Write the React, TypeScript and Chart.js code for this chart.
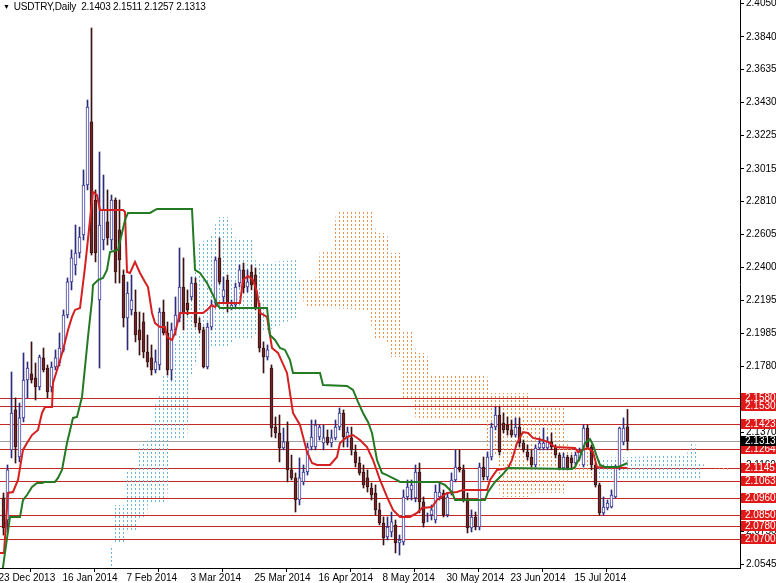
import React, { useEffect, useRef } from 'react';
import { Chart, registerables } from 'chart.js';

Chart.register(...registerables);

const FONT = '"Liberation Sans", Arial, sans-serif';

const openVals = [
  2.0958, 2.0820, 2.1258, 2.1508, 2.1214, 2.1458, 2.1695, 2.1733, 2.1708, 2.1651,
  2.1833, 2.1770, 2.1651, 2.1776, 2.1801, 2.1883, 2.2101, 2.2308, 2.2414, 2.2489,
  2.2601, 2.2914, 2.3308, 2.2820, 2.2195, 2.2570, 2.2683, 2.2570, 2.2820, 2.2633,
  2.2351, 2.2083, 2.2133, 2.2120, 2.2008, 2.2058, 2.1870, 2.1833, 2.1758, 2.1789,
  2.2120, 2.1989, 2.1758, 2.2008, 2.2083, 2.2276, 2.2176, 2.2214, 2.2301, 2.2051,
  2.2008, 2.1776, 2.2026, 2.2176, 2.2458, 2.2214, 2.2320, 2.2145, 2.2164, 2.2301,
  2.2383, 2.2276, 2.2370, 2.2351, 2.2151, 2.1895, 2.1839, 2.1770, 2.1401, 2.1364,
  2.1270, 2.1308, 2.1133, 2.1083, 2.0945, 2.1058, 2.1120, 2.1276, 2.1276, 2.1339,
  2.1301, 2.1339, 2.1301, 2.1333, 2.1401, 2.1489, 2.1339, 2.1333, 2.1245, 2.1176,
  2.1120, 2.1083, 2.1020, 2.0989, 2.0883, 2.0801, 2.0714, 2.0745, 2.0789, 2.0676,
  2.0683, 2.0964, 2.1008, 2.0958, 2.1120, 2.0933, 2.0833, 2.0851, 2.0820, 2.0964,
  2.0989, 2.0851, 2.0989, 2.1070, 2.1151, 2.1133, 2.0945, 2.0770, 2.0839, 2.0776,
  2.1151, 2.1089, 2.1214, 2.1401, 2.1476, 2.1426, 2.1414, 2.1383, 2.1351, 2.1401,
  2.1301, 2.1245, 2.1214, 2.1164, 2.1270, 2.1270, 2.1270, 2.1308, 2.1276, 2.1226,
  2.1145, 2.1214, 2.1208, 2.1176, 2.1208, 2.1164, 2.1395, 2.1276, 2.1164, 2.1039,
  2.0864, 2.0895, 2.0901, 2.0964, 2.1145, 2.1308, 2.1403,
];

const highVals = [
  2.0989, 2.1164, 2.1745, 2.1583, 2.1551, 2.1864, 2.1808, 2.1933, 2.1801, 2.1851,
  2.1895, 2.1789, 2.1808, 2.1883, 2.1989, 2.2133, 2.2333, 2.2508, 2.2664, 2.2651,
  2.3008, 2.3445, 2.3895, 2.2883, 2.3120, 2.2976, 2.2883, 2.2851, 2.2833, 2.2820,
  2.2383, 2.2308, 2.2351, 2.2258, 2.2120, 2.2114, 2.1976, 2.1914, 2.1883, 2.2145,
  2.2195, 2.2058, 2.2051, 2.2214, 2.2520, 2.2458, 2.2258, 2.2339, 2.2333, 2.2083,
  2.2026, 2.2051, 2.2195, 2.2464, 2.2583, 2.2339, 2.2351, 2.2195, 2.2301, 2.2414,
  2.2426, 2.2383, 2.2414, 2.2395, 2.2176, 2.1933, 2.1914, 2.1789, 2.1464, 2.1476,
  2.1395, 2.1433, 2.1226, 2.1114, 2.1208, 2.1164, 2.1301, 2.1445, 2.1445, 2.1414,
  2.1414, 2.1383, 2.1383, 2.1445, 2.1520, 2.1508, 2.1401, 2.1401, 2.1289, 2.1214,
  2.1164, 2.1133, 2.1051, 2.1039, 2.0926, 2.0839, 2.0839, 2.0870, 2.0820, 2.0726,
  2.1008, 2.1070, 2.1070, 2.1164, 2.1176, 2.0964, 2.0864, 2.0914, 2.1039, 2.1051,
  2.1008, 2.0989, 2.1114, 2.1258, 2.1258, 2.1164, 2.0989, 2.0883, 2.0870, 2.1176,
  2.1214, 2.1245, 2.1426, 2.1526, 2.1526, 2.1489, 2.1464, 2.1445, 2.1458, 2.1458,
  2.1320, 2.1289, 2.1258, 2.1289, 2.1333, 2.1395, 2.1339, 2.1364, 2.1289, 2.1239,
  2.1239, 2.1226, 2.1226, 2.1245, 2.1270, 2.1414, 2.1414, 2.1289, 2.1176, 2.1051,
  2.0964, 2.0945, 2.1008, 2.1164, 2.1401, 2.1458, 2.1511,
];

const lowVals = [
  2.0726, 2.0745, 2.1208, 2.1176, 2.1183, 2.1433, 2.1583, 2.1676, 2.1570, 2.1633,
  2.1745, 2.1583, 2.1620, 2.1758, 2.1783, 2.1870, 2.2083, 2.2258, 2.2351, 2.2458,
  2.2570, 2.2883, 2.2476, 2.2433, 2.1770, 2.2508, 2.2539, 2.2508, 2.2301, 2.2301,
  2.2026, 2.1883, 2.2101, 2.1933, 2.1851, 2.1833, 2.1776, 2.1726, 2.1739, 2.1758,
  2.1976, 2.1726, 2.1695, 2.1976, 2.2058, 2.2008, 2.2101, 2.2195, 2.2026, 2.1989,
  2.1770, 2.1764, 2.2008, 2.2164, 2.2295, 2.2176, 2.2120, 2.2133, 2.2151, 2.2276,
  2.2239, 2.2245, 2.2258, 2.2133, 2.1870, 2.1739, 2.1820, 2.1339, 2.1333, 2.1183,
  2.1258, 2.1058, 2.1070, 2.0870, 2.0914, 2.1039, 2.1101, 2.1258, 2.1258, 2.1320,
  2.1258, 2.1289, 2.1276, 2.1320, 2.1383, 2.1276, 2.1276, 2.1226, 2.1151, 2.1101,
  2.1020, 2.0995, 2.0945, 2.0851, 2.0789, 2.0664, 2.0695, 2.0714, 2.0614, 2.0601,
  2.0664, 2.0945, 2.0945, 2.0933, 2.0864, 2.0776, 2.0808, 2.0820, 2.0801, 2.0945,
  2.0839, 2.0839, 2.0976, 2.1058, 2.1120, 2.0933, 2.0739, 2.0745, 2.0758, 2.0758,
  2.1070, 2.1070, 2.1195, 2.1383, 2.1226, 2.1364, 2.1351, 2.1339, 2.1339, 2.1276,
  2.1245, 2.1195, 2.1151, 2.1151, 2.1258, 2.1258, 2.1258, 2.1258, 2.1208, 2.1133,
  2.1133, 2.1133, 2.1145, 2.1164, 2.1195, 2.1151, 2.1270, 2.1133, 2.1026, 2.0851,
  2.0851, 2.0883, 2.0895, 2.0958, 2.1133, 2.1289, 2.1257,
];

const closeVals = [
  2.0770, 2.1133, 2.1489, 2.1276, 2.1458, 2.1695, 2.1770, 2.1695, 2.1651, 2.1839,
  2.1758, 2.1620, 2.1776, 2.1833, 2.1895, 2.2101, 2.2308, 2.2458, 2.2489, 2.2589,
  2.2914, 2.3401, 2.2489, 2.2489, 2.2664, 2.2758, 2.2583, 2.2820, 2.2370, 2.2445,
  2.2083, 2.2239, 2.2195, 2.1976, 2.1945, 2.1870, 2.1808, 2.1758, 2.1808, 2.2120,
  2.1989, 2.1758, 2.2008, 2.2101, 2.2276, 2.2114, 2.2133, 2.2301, 2.2051, 2.2008,
  2.1776, 2.2026, 2.2164, 2.2445, 2.2308, 2.2258, 2.2176, 2.2164, 2.2276, 2.2383,
  2.2270, 2.2308, 2.2289, 2.2151, 2.1895, 2.1839, 2.1883, 2.1395, 2.1364, 2.1270,
  2.1308, 2.1133, 2.1083, 2.0945, 2.1083, 2.1120, 2.1276, 2.1339, 2.1414, 2.1401,
  2.1333, 2.1301, 2.1333, 2.1401, 2.1489, 2.1339, 2.1370, 2.1258, 2.1176, 2.1114,
  2.1039, 2.1026, 2.0976, 2.0883, 2.0801, 2.0708, 2.0776, 2.0808, 2.0676, 2.0695,
  2.0964, 2.1026, 2.1039, 2.1120, 2.0933, 2.0801, 2.0833, 2.0883, 2.0995, 2.0995,
  2.0851, 2.0964, 2.1070, 2.1151, 2.1133, 2.0945, 2.0770, 2.0839, 2.0776, 2.1151,
  2.1089, 2.1214, 2.1401, 2.1476, 2.1245, 2.1383, 2.1383, 2.1351, 2.1401, 2.1301,
  2.1258, 2.1214, 2.1164, 2.1270, 2.1301, 2.1301, 2.1308, 2.1276, 2.1226, 2.1145,
  2.1214, 2.1145, 2.1176, 2.1226, 2.1245, 2.1395, 2.1276, 2.1164, 2.1039, 2.0864,
  2.0901, 2.0926, 2.0976, 2.1145, 2.1395, 2.1395, 2.1313,
];

// [bar index, price] vertices
const tenkanPts: [number, number][] = [
  [-0.875, 2.0614], [0.125, 2.0614], [1.125, 2.0989], [2.375, 2.0995], [3.625, 2.107], [4.875, 2.1258],
  [5.875, 2.1301], [7.125, 2.1351], [8.625, 2.1383], [9.625, 2.1489], [10.375, 2.1526], [12.125, 2.1526],
  [12.375, 2.1676], [13.625, 2.1776], [14.875, 2.1883], [16.125, 2.2008], [17.125, 2.2089], [17.875, 2.2133],
  [19.125, 2.2145], [20.375, 2.2401], [21.625, 2.2695], [22.375, 2.287], [23.375, 2.2851], [24.125, 2.2758],
  [29.875, 2.2758], [30.375, 2.2745], [30.875, 2.237], [31.625, 2.2364], [32.875, 2.2433], [34.125, 2.2364],
  [35.375, 2.2308], [36.125, 2.2276], [37.125, 2.2114], [37.875, 2.2051], [39.125, 2.2026], [40.375, 2.2026],
  [40.875, 2.1964], [42.125, 2.1945], [42.875, 2.1989], [44.125, 2.2114], [49.875, 2.2114], [50.875, 2.2133],
  [52.125, 2.2164], [52.875, 2.2151], [53.625, 2.2176], [59.125, 2.2176], [59.875, 2.232], [61.125, 2.2345],
  [62.375, 2.232], [63.375, 2.2245], [64.125, 2.2114], [65.875, 2.2089], [67.125, 2.1895], [68.625, 2.1864],
  [70.875, 2.1739], [72.375, 2.1489], [74.125, 2.1414], [75.875, 2.1245], [77.125, 2.1176], [78.375, 2.1164],
  [81.625, 2.1164], [83.375, 2.1214], [84.125, 2.1301], [85.875, 2.1339], [87.375, 2.1351], [89.125, 2.132],
  [90.875, 2.1276], [92.375, 2.1195], [94.125, 2.107], [95.875, 2.0964], [97.375, 2.0883], [99.125, 2.0839],
  [101.625, 2.0839], [103.375, 2.0864], [104.625, 2.0895], [107.125, 2.0901], [108.375, 2.0945], [110.875, 2.0989],
  [113.375, 2.0995], [114.875, 2.1008], [120.875, 2.1008], [121.625, 2.107], [123.375, 2.1133], [126.125, 2.1145],
  [127.125, 2.1195], [128.375, 2.1301], [129.875, 2.137], [131.125, 2.1364], [132.375, 2.1333], [134.625, 2.132],
  [136.125, 2.1308], [137.875, 2.1276], [142.875, 2.127], [143.625, 2.1245], [144.875, 2.1258], [146.125, 2.127],
  [147.375, 2.1245], [148.375, 2.1151], [156, 2.1145],
];

const kijunPts: [number, number][] = [
  [-0.875, 2.045], [-0.125, 2.0526], [1.625, 2.0839], [4.125, 2.0839], [4.875, 2.0945], [5.875, 2.0976],
  [7.125, 2.1026], [8.375, 2.1051], [9.625, 2.1051], [10.375, 2.1058], [12.875, 2.1058], [13.625, 2.1083],
  [14.625, 2.1133], [15.875, 2.1301], [17.375, 2.1458], [18.375, 2.1464], [19.625, 2.1589], [20.375, 2.1776],
  [21.125, 2.1964], [22.125, 2.2195], [22.375, 2.2289], [23.625, 2.232], [24.875, 2.2333], [25.875, 2.2383],
  [26.625, 2.2495], [28.625, 2.2508], [29.625, 2.2614], [30.375, 2.2695], [31.125, 2.2739], [36.625, 2.2739],
  [37.375, 2.2751], [38.375, 2.2764], [47.125, 2.2764], [47.875, 2.2383], [49.125, 2.2364], [50.875, 2.2301],
  [52.375, 2.2226], [53.625, 2.2158], [54.125, 2.2145], [65.875, 2.2145], [66.625, 2.1976], [67.875, 2.1945],
  [69.125, 2.1895], [70.375, 2.1883], [71.625, 2.182], [72.375, 2.1739], [79.125, 2.1739], [79.875, 2.1664],
  [85.875, 2.1658], [87.375, 2.1633], [88.625, 2.1558], [89.875, 2.1489], [91.125, 2.1433], [92.125, 2.1364],
  [93.375, 2.1195], [94.625, 2.1114], [95.875, 2.1101], [98.375, 2.107], [99.125, 2.1058], [108.625, 2.1058],
  [110.375, 2.1039], [112.125, 2.0995], [112.875, 2.0945], [120.375, 2.0945], [121.125, 2.0995], [122.875, 2.1058],
  [124.625, 2.1101], [126.125, 2.1145], [142.125, 2.1139], [142.875, 2.1151], [144.125, 2.1214], [145.375, 2.1301],
  [146.625, 2.1326], [147.375, 2.1289], [148.375, 2.1214], [149.125, 2.1164], [150.375, 2.1151], [153.625, 2.1151],
  [154.875, 2.1164], [156, 2.1176],
];

const spanAPts: [number, number][] = [
  [26.625, 2.0651], [27.625, 2.0651], [27.875, 2.0914], [30.125, 2.0914], [30.875, 2.1133], [33.375, 2.1145],
  [34.125, 2.1301], [36.625, 2.132], [37.375, 2.1508], [39.125, 2.1601], [39.875, 2.1714], [41.625, 2.1883],
  [44.125, 2.1976], [45.875, 2.2114], [47.125, 2.2258], [48.375, 2.2539], [52.375, 2.2601], [53.375, 2.2714],
  [56.625, 2.2714], [57.375, 2.2589], [62.125, 2.257], [63.125, 2.2426], [73.375, 2.2445], [74.375, 2.2258],
  [75.375, 2.2151], [91.625, 2.2133], [92.375, 2.1945], [95.875, 2.1945], [96.625, 2.1839], [99.125, 2.1839],
  [99.875, 2.157], [102.375, 2.157], [103.125, 2.1445], [120.125, 2.1445], [121.125, 2.1239], [123.375, 2.1226],
  [124.125, 2.0964], [131.125, 2.0964], [132.125, 2.0989], [140.375, 2.0989], [141.125, 2.107], [147.375, 2.107],
  [148.375, 2.1208], [170.875, 2.1226], [171.625, 2.1308], [172.875, 2.1308], [173.625, 2.1183], [177.125, 2.1145],
  [181.625, 2.1133],
];

const spanBPts: [number, number][] = [
  [26.625, 2.0383], [27.625, 2.0383], [27.875, 2.0676], [30.125, 2.0676], [30.875, 2.0758], [33.375, 2.0758],
  [34.125, 2.0839], [35.875, 2.0839], [36.125, 2.0926], [40.875, 2.0926], [41.625, 2.132], [45.875, 2.132],
  [46.625, 2.1695], [48.375, 2.182], [49.125, 2.1901], [56.625, 2.1901], [57.375, 2.1945], [62.375, 2.1945],
  [63.125, 2.1989], [66.625, 2.2008], [73.375, 2.2089], [74.375, 2.232], [78.375, 2.2339], [79.125, 2.2508],
  [82.375, 2.2508], [83.125, 2.2745], [92.375, 2.2745], [93.125, 2.2614], [95.875, 2.2614], [96.625, 2.2489],
  [99.125, 2.2489], [99.875, 2.2008], [102.375, 2.2008], [103.125, 2.1864], [105.875, 2.1864], [106.625, 2.1726],
  [120.875, 2.1726], [121.625, 2.1614], [131.125, 2.1614], [131.875, 2.152], [140.375, 2.152], [141.125, 2.1276],
  [147.375, 2.1276], [148.375, 2.107], [174.125, 2.107], [174.875, 2.1145], [181.625, 2.1151],
];

const levelVals = [2.158, 2.153, 2.1423, 2.1264, 2.1145, 2.1063, 2.096, 2.085, 2.078, 2.07];
const lastPrice = 2.1313;

const yTickVals = [
  2.405, 2.384, 2.3635, 2.343, 2.3225, 2.3015, 2.281, 2.2605, 2.24, 2.2195,
  2.1985, 2.178, 2.1575, 2.137, 2.116, 2.0955, 2.075, 2.0545,
];

const dateLabels = [
  '23 Dec 2013', '16 Jan 2014', '7 Feb 2014', '3 Mar 2014', '25 Mar 2014',
  '16 Apr 2014', '8 May 2014', '30 May 2014', '23 Jun 2014', '15 Jul 2014',
];
const dateBarIdx = [-1, 15, 31, 47, 63, 79, 95, 111, 127, 143];

const X_MIN = -0.875;
const X_MAX = 184.125;
const Y_MIN = 2.052;
const Y_MAX = 2.407;

const BLUE_DOT = '#6cb4d8';
const ORANGE_DOT = '#e8904e';

export default function App() {
  const ref = useRef<HTMLCanvasElement | null>(null);

  useEffect(() => {
    const canvas = ref.current;
    if (!canvas) return;
    const ctx = canvas.getContext('2d')!;

    const dotPattern = (color: string) => {
      const c = document.createElement('canvas');
      c.width = 4;
      c.height = 4;
      const g = c.getContext('2d')!;
      g.fillStyle = color;
      g.fillRect(3, 0, 1, 2);
      return ctx.createPattern(c, 'repeat') as CanvasPattern;
    };
    const blueDots = dotPattern(BLUE_DOT);
    const orangeDots = dotPattern(ORANGE_DOT);

    const bars = openVals.map((_, i) => i);
    const bull = (i: number) => closeVals[i] >= openVals[i];

    const levelsPlugin = {
      id: 'levels',
      beforeDatasetsDraw(chart: any) {
        const { ctx: c, chartArea, scales } = chart;
        const y = scales.y;
        c.save();
        c.lineWidth = 1;
        c.strokeStyle = '#c62828';
        levelVals.forEach((v) => {
          const py = Math.round(y.getPixelForValue(v)) + 0.5;
          c.beginPath();
          c.moveTo(chartArea.left, py);
          c.lineTo(chartArea.right, py);
          c.stroke();
        });
        const pl = Math.round(y.getPixelForValue(lastPrice)) + 0.5;
        c.strokeStyle = '#a0a0a0';
        c.beginPath();
        c.moveTo(chartArea.left, pl);
        c.lineTo(chartArea.right, pl);
        c.stroke();
        c.restore();
      },
      afterDraw(chart: any) {
        const { ctx: c, chartArea, scales } = chart;
        const y = scales.y;
        c.save();
        c.font = '10px ' + FONT;
        c.textBaseline = 'middle';
        c.textAlign = 'left';
        const box = (v: number, bg: string) => {
          const py = Math.round(y.getPixelForValue(v));
          c.fillStyle = bg;
          c.fillRect(chartArea.right + 1, py - 5, chart.width - chartArea.right - 1, 10);
          c.fillStyle = '#ffffff';
          c.fillText(v.toFixed(4), chartArea.right + 5, py + 0.5);
        };
        levelVals.forEach((v) => box(v, '#e01818'));
        box(lastPrice, '#000000');
        c.restore();
      },
    };

    const chart = new Chart(canvas, {
      type: 'line',
      data: {
        datasets: [
          {
            type: 'line',
            label: 'Senkou A',
            data: spanAPts.map(([x, y]) => ({ x, y })),
            borderColor: 'transparent',
            borderWidth: 0,
            pointRadius: 0,
            tension: 0,
            fill: { target: '+1', above: blueDots, below: orangeDots },
            order: 20,
          } as any,
          {
            type: 'line',
            label: 'Senkou B',
            data: spanBPts.map(([x, y]) => ({ x, y })),
            borderColor: 'transparent',
            borderWidth: 0,
            pointRadius: 0,
            tension: 0,
            fill: false,
            order: 19,
          },
          {
            type: 'bar',
            label: 'Wicks',
            data: bars.map((i) => ({ x: i, y: [lowVals[i], highVals[i]] })) as any,
            backgroundColor: bars.map((i) => (bull(i) ? '#2c2c7a' : '#3a1212')),
            borderWidth: 0,
            barThickness: 1,
            grouped: false,
            order: 6,
          } as any,
          {
            type: 'bar',
            label: 'Bodies',
            data: bars.map((i) => ({ x: i, y: [openVals[i], closeVals[i]] })) as any,
            backgroundColor: bars.map((i) => (bull(i) ? '#ffffff' : '#6e2626')),
            borderColor: bars.map((i) => (bull(i) ? '#3a3a9c' : '#3a1212')),
            borderWidth: 1,
            borderSkipped: false,
            barThickness: 3,
            grouped: false,
            order: 5,
          } as any,
          {
            type: 'line',
            label: 'Tenkan-sen',
            data: tenkanPts.map(([x, y]) => ({ x, y })),
            borderColor: '#d42020',
            borderWidth: 2,
            pointRadius: 0,
            tension: 0,
            fill: false,
            order: 2,
          },
          {
            type: 'line',
            label: 'Kijun-sen',
            data: kijunPts.map(([x, y]) => ({ x, y })),
            borderColor: '#237a23',
            borderWidth: 2,
            pointRadius: 0,
            tension: 0,
            fill: false,
            order: 1,
          },
        ],
      },
      options: {
        animation: false,
        responsive: false,
        devicePixelRatio: 1,
        events: [],
        layout: { padding: 0 },
        plugins: {
          legend: { display: false },
          tooltip: { enabled: false },
          title: { display: false },
        },
        scales: {
          x: {
            type: 'linear',
            min: X_MIN,
            max: X_MAX,
            offset: false,
            position: 'bottom',
            grid: { drawOnChartArea: false, drawTicks: true, tickLength: 4, color: '#000' },
            border: { display: true, color: '#000', width: 1 },
            ticks: {
              autoSkip: false,
              maxRotation: 0,
              minRotation: 0,
              align: 'start',
              padding: 0,
              color: '#000',
              font: { family: FONT, size: 10 },
              callback: (_v: any, idx: number) => dateLabels[idx] ?? '',
            },
            afterBuildTicks: (s: any) => {
              s.ticks = dateBarIdx.map((d) => ({ value: d - 0.25 }));
            },
            afterFit: (s: any) => {
              s.height = 15;
              s.paddingLeft = 0;
              s.paddingRight = 0;
            },
          } as any,
          y: {
            type: 'linear',
            position: 'right',
            min: Y_MIN,
            max: Y_MAX,
            beginAtZero: false,
            grid: { drawOnChartArea: false, drawTicks: true, tickLength: 4, color: '#000' },
            border: { display: true, color: '#000', width: 1 },
            ticks: {
              autoSkip: false,
              padding: 2,
              color: '#000',
              font: { family: FONT, size: 10 },
              callback: (v: any) => Number(v).toFixed(4),
            },
            afterBuildTicks: (s: any) => {
              s.ticks = yTickVals.map((v) => ({ value: v }));
            },
            afterFit: (s: any) => {
              s.width = 36;
              s.paddingTop = 0;
              s.paddingBottom = 0;
            },
          } as any,
        },
      },
      plugins: [levelsPlugin],
    });

    return () => chart.destroy();
  }, []);

  return (
    <div style={{ position: 'absolute', left: 0, top: 0, width: 776, height: 583, background: '#fff', overflow: 'hidden' }}>
      <canvas ref={ref} width={776} height={583} style={{ display: 'block', width: 776, height: 583 }} />
      <div
        style={{
          position: 'absolute',
          left: 3,
          top: 1,
          fontFamily: FONT,
          fontSize: 10,
          color: '#000',
          whiteSpace: 'pre',
          letterSpacing: '-0.2px',
          lineHeight: '12px',
        }}
      >
        <span style={{ fontSize: 7, marginRight: 4, verticalAlign: '1px' }}>▼</span>
        {'USDTRY,Daily  2.1403 2.1511 2.1257 2.1313'}
      </div>
    </div>
  );
}
